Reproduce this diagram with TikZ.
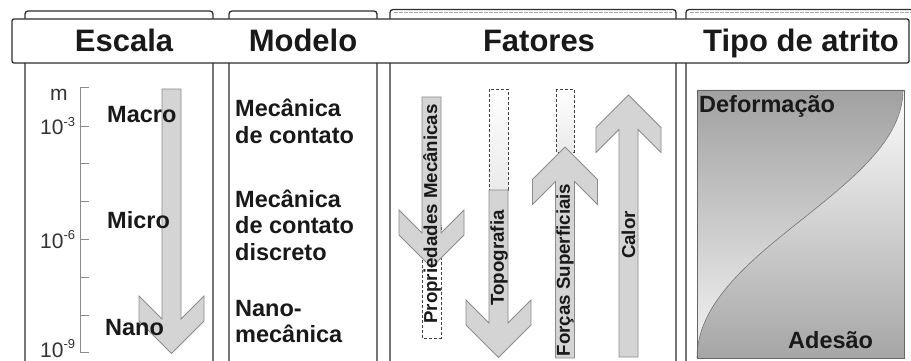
\documentclass[tikz,border=0pt]{standalone}
\usepackage{fontspec}
\setmainfont{Liberation Sans}
\newcommand\DArr[3]{% cx, ytop, wing top
  \draw[arrowsty] ({#1-9.5},#2) -- ({#1-9.5},{#3+23}) -- ({#1-32.5},#3) -- ({#1-32.5},{#3+25}) -- (#1,{#3+57.5}) -- ({#1+32.5},{#3+25}) -- ({#1+32.5},#3) -- ({#1+9.5},{#3+23}) -- ({#1+9.5},#2) -- cycle;}
\newcommand\UArr[3]{% cx, ybottom, tip
  \draw[arrowsty] ({#1-9.5},#2) -- ({#1-9.5},{#3+34.5}) -- ({#1-32.5},{#3+57.5}) -- ({#1-32.5},{#3+32.5}) -- (#1,#3) -- ({#1+32.5},{#3+32.5}) -- ({#1+32.5},{#3+57.5}) -- ({#1+9.5},{#3+34.5}) -- ({#1+9.5},#2) -- cycle;}
\newcommand\expo[1]{\raisebox{0.42em}{\fontsize{13}{13}\selectfont #1}}
\begin{document}
\begin{tikzpicture}[x=1pt,y={(0pt,-1pt)},
  frame/.style={draw=black!82, line width=1.3pt, fill=white},
  arrowsty/.style={draw=black!45, line width=0.8pt, fill=black!17},
  dashbox/.style={draw=black!75, dash pattern=on 3pt off 2pt, line width=0.8pt, top color=white, bottom color=black!8},
  hdr/.style={font=\fontsize{31}{36}\selectfont\bfseries, text=black!90, inner sep=0pt, anchor=base},
  lbl/.style={font=\fontsize{23.5}{28}\selectfont\bfseries, text=black!90, inner sep=0pt, anchor=base west},
  rot/.style={font=\fontsize{18.7}{22}\selectfont\bfseries, text=black!90, inner sep=0pt, rotate=90},
  scl/.style={font=\fontsize{21}{24}\selectfont, text=black!80, inner sep=0pt, anchor=base west},
  tickln/.style={draw=black!45, line width=1pt}]
\useasboundingbox (0,0) rectangle (911,361);
% column frames
\draw[frame, rounded corners=3pt] (25,11) rectangle (213,390);
\draw[frame, rounded corners=3pt] (229,11) rectangle (377,390);
\draw[frame, rounded corners=3pt] (390,9.5) rectangle (676,390);
\draw[frame, rounded corners=3pt] (686,9.5) rectangle (925,390);
\draw[black!35, dash pattern=on 4pt off 1pt, line width=0.8pt] (394,12.8) -- (672,12.8);
\draw[black!35, dash pattern=on 4pt off 1pt, line width=0.8pt] (690,12.8) -- (911,12.8);
% header band
\draw[frame, rounded corners=2pt] (12,19) rectangle (909,63);
\node[hdr] (hEscala) at (124,52) {Escala};
\node[hdr] (hModelo) at (303,52) {Modelo};
\node[hdr] (hFatores) at (539,52) {Fatores};
\node[hdr] (hTipo) at (801,52) {Tipo de atrito};
% scale
\draw[tickln] (89,88) -- (80,88) -- (80,352) -- (89,352);
\foreach \t in {126,163,201,239,277,315} \draw[tickln] (80,\t) -- (89,\t);
\node[scl] (m) at (50,100) {m};
\node[scl] (e3) at (40,135) {10\expo{-3}};
\node[scl] (e6) at (40,248) {10\expo{-6}};
\node[scl] (e9) at (40,357) {10\expo{-9}};
\DArr{171.5}{89}{296}
\node[lbl] (macro) at (107,122) {Macro};
\node[lbl] (micro) at (107,228) {Micro};
\node[lbl] (nano) at (105,335) {Nano};
% models
\node[lbl] (m1a) at (235,117) {Mecânica};
\node[lbl] (m1b) at (235,143) {de contato};
\node[lbl] (m2a) at (235,207) {Mecânica};
\node[lbl] (m2b) at (235,233) {de contato};
\node[lbl] (m2c) at (235,260) {discreto};
\node[lbl] (m3a) at (235,316) {Nano-};
\node[lbl] (m3b) at (235,342) {mecânica};
% factors
\draw[dashbox, top color=white, bottom color=white] (422,225) rectangle (441,338);
\DArr{431.5}{97}{210}
\draw[dashbox] (489,89) rectangle (508,190);
\DArr{498.5}{190}{300}
\draw[dashbox] (556,89) rectangle (574,152);
\UArr{565}{358}{147}
\UArr{628.5}{357}{95}
\node[rot] (fProp) at (432,214) {Propriedades Mecânicas};
\node[rot] (fTopo) at (499,258) {Topografia};
\node[rot] (fForc) at (565,270) {Forças Superficiais};
\node[rot] (fCalor) at (628.5,235) {Calor};
% friction type
\shade[top color=black!37, bottom color=black!4] (697,90) -- (903,90) .. controls (903,190) and (697,250) .. (697,358) -- cycle;
\shade[top color=black!1, bottom color=black!35] (903,90) .. controls (903,190) and (697,250) .. (697,358) -- (904,358) -- (904,90) -- cycle;
\draw[black!55, line width=0.6pt] (903,90) .. controls (903,190) and (697,250) .. (697,358);
\draw[black!60, line width=0.8pt] (697,90) rectangle (904,358);
\node[lbl] (deform) at (699,113) {Deformação};
\node[lbl] (adesao) at (788,348) {Adesão};
\end{tikzpicture}
\end{document}
